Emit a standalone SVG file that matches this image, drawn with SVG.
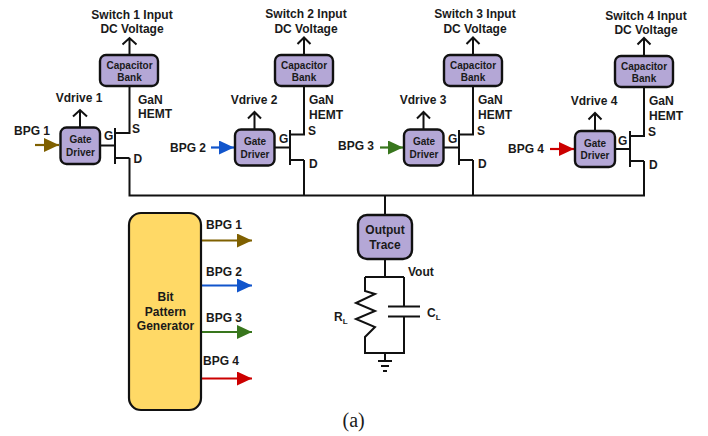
<svg xmlns="http://www.w3.org/2000/svg" width="708" height="436" viewBox="0 0 708 436">
<defs>
<marker id="ob" markerUnits="userSpaceOnUse" markerWidth="16" markerHeight="14" refX="15" refY="7" orient="auto"><path d="M0 0L15 7L0 14Z" fill="#7f6000"/></marker>
<marker id="bb" markerUnits="userSpaceOnUse" markerWidth="16" markerHeight="14" refX="15" refY="7" orient="auto"><path d="M0 0L15 7L0 14Z" fill="#1155cc"/></marker>
<marker id="gb" markerUnits="userSpaceOnUse" markerWidth="16" markerHeight="14" refX="15" refY="7" orient="auto"><path d="M0 0L15 7L0 14Z" fill="#38761d"/></marker>
<marker id="rb" markerUnits="userSpaceOnUse" markerWidth="16" markerHeight="14" refX="15" refY="7" orient="auto"><path d="M0 0L15 7L0 14Z" fill="#cc0000"/></marker>
</defs>
<style>
text{font-family:"Liberation Sans",Arial,sans-serif;font-weight:700;font-size:12px;fill:#1a1a1a}
.m{text-anchor:middle}
.s{font-size:10px}
.box{fill:#b4a7d6;stroke:#111;stroke-width:2.4}
.w{fill:none;stroke:#111;stroke-width:2}
.up{fill:none;stroke:#111;stroke-width:2}
</style>
<rect width="708" height="436" fill="#fff"/>
<g id="connectors">
<path class="w" d="M129.500 158V195.500H644V161"/>
<path class="w" d="M304 160V195.500M473 160V196M385 196V215M385 259V277M365 277H404M365 277V291L375 294L356 303L375 311L356 319L375 327L365 337V353H404V317M404 277V306.500M388 306.500H420M388 316.500H420M385 353V361"/>
<path class="w" d="M378 361H392M381 366H389M383 371H387"/>
<path d="M202 240.500H252" stroke="#7f6000" stroke-width="2.2" marker-end="url(#ob)"/>
<path d="M202 285.500H252" stroke="#1155cc" stroke-width="2.2" marker-end="url(#bb)"/>
<path d="M202 332H252" stroke="#38761d" stroke-width="2.2" marker-end="url(#gb)"/>
<path d="M202 378.500H252" stroke="#cc0000" stroke-width="2.2" marker-end="url(#rb)"/>
<path d="M35 145H59" stroke="#7f6000" stroke-width="2.2" marker-end="url(#ob)"/>
<path d="M211 147.500H234" stroke="#1155cc" stroke-width="2.2" marker-end="url(#bb)"/>
<path d="M380 147.500H403" stroke="#38761d" stroke-width="2.2" marker-end="url(#gb)"/>
<path d="M550 149H574" stroke="#cc0000" stroke-width="2.2" marker-end="url(#rb)"/>
</g>
<g id="switch1">
<path class="up" d="M129.500 55V38M122.500 44.500L129.500 38L136.500 44.500M129.500 86V133H115M115 128V164M100 145.500H115M115 158H129.500M80 127V110M73 116.500L80 110L87 116.500"/>
<rect class="box" x="100" y="55" width="58" height="31" rx="6"/>
<rect class="box" x="60.500" y="127.500" width="39.500" height="36.500" rx="6"/>
<text class="m" x="132" y="18.500">Switch 1 Input</text><text class="m" x="132" y="33">DC Voltage</text>
<text class="m s" x="129.500" y="68.500">Capacitor</text><text class="m s" x="129.500" y="80.500">Bank</text>
<text class="m s" x="80.500" y="143">Gate</text><text class="m s" x="80.500" y="155.500">Driver</text>
<text class="m" x="79" y="102">Vdrive 1</text><text x="138" y="104">GaN</text><text x="138" y="118">HEMT</text>
<text x="132" y="133">S</text><text x="133.500" y="162.500">D</text><text x="104" y="140">G</text><text x="14" y="134.500">BPG 1</text>
</g>
<g id="switch2">
<path class="up" d="M304 55V37M297.500 44L304 37.500L310.500 44M304 86V134.500H290M290 130V165M274 147.500H290M290 160H304M254.500 129V112M248 118.500L254.500 112L261 118.500"/>
<rect class="box" x="275" y="55" width="58" height="31" rx="6"/>
<rect class="box" x="235" y="129.500" width="39.500" height="36" rx="6"/>
<text class="m" x="306" y="18">Switch 2 Input</text><text class="m" x="306" y="33">DC Voltage</text>
<text class="m s" x="304" y="68.500">Capacitor</text><text class="m s" x="304" y="80.500">Bank</text>
<text class="m s" x="255" y="145">Gate</text><text class="m s" x="255" y="157.500">Driver</text>
<text class="m" x="254" y="104">Vdrive 2</text><text x="309" y="104">GaN</text><text x="309" y="118.500">HEMT</text>
<text x="308" y="135">S</text><text x="309" y="168">D</text><text x="279" y="143">G</text><text x="170" y="152">BPG 2</text>
</g>
<g id="switch3">
<path class="up" d="M473 55V37M466.500 44L473 37.500L479.500 44M473 86V134.500H459M459 130V165M443 147.500H459M459 160H473M423.500 129V112M417 118.500L423.500 112L430 118.500"/>
<rect class="box" x="444" y="55" width="58" height="31" rx="6"/>
<rect class="box" x="404" y="129.500" width="39.500" height="36" rx="6"/>
<text class="m" x="475" y="18">Switch 3 Input</text><text class="m" x="475" y="33">DC Voltage</text>
<text class="m s" x="473" y="68.500">Capacitor</text><text class="m s" x="473" y="80.500">Bank</text>
<text class="m s" x="424" y="145">Gate</text><text class="m s" x="424" y="157.500">Driver</text>
<text class="m" x="423" y="104">Vdrive 3</text><text x="478" y="104">GaN</text><text x="478" y="118.500">HEMT</text>
<text x="477" y="135">S</text><text x="478" y="168">D</text><text x="448" y="143">G</text><text x="338" y="150">BPG 3</text>
</g>
<g id="switch4">
<path class="up" d="M644 56V38M637.500 44.500L644 38L650.500 44.500M644 87V136H630M630 131V167M615 149H630M630 161H644M595 131V113M588.500 119.500L595 113L601.500 119.500"/>
<rect class="box" x="615" y="56" width="58" height="31" rx="6"/>
<rect class="box" x="575" y="131" width="40" height="36" rx="6"/>
<text class="m" x="646" y="19.500">Switch 4 Input</text><text class="m" x="646" y="34">DC Voltage</text>
<text class="m s" x="644" y="69.500">Capacitor</text><text class="m s" x="644" y="81.500">Bank</text>
<text class="m s" x="595" y="147">Gate</text><text class="m s" x="595" y="159">Driver</text>
<text class="m" x="594" y="105">Vdrive 4</text><text x="649" y="105">GaN</text><text x="649" y="120">HEMT</text>
<text x="648" y="136">S</text><text x="649" y="169">D</text><text x="618" y="145">G</text><text x="508" y="153">BPG 4</text>
</g>
<g id="output-trace">
<rect class="box" x="358" y="215" width="54" height="44" rx="9"/>
<text class="m" x="385" y="234">Output</text><text class="m" x="385" y="249">Trace</text>
</g>
<g id="bit-pattern-generator">
<rect x="129" y="213" width="72" height="197" rx="12" fill="#ffd966" stroke="#111" stroke-width="2.2"/>
<text class="m" x="165.500" y="301">Bit</text><text class="m" x="165.500" y="316">Pattern</text><text class="m" x="165.500" y="330">Generator</text>
</g>
<g id="labels">
<text x="206" y="229">BPG 1</text><text x="206" y="276">BPG 2</text><text x="206" y="322">BPG 3</text><text x="203" y="365">BPG 4</text>
<text x="408" y="276">Vout</text>
<text x="334" y="321" style="font-weight:700">R<tspan font-size="8" dy="3">L</tspan></text>
<text x="427" y="317">C<tspan font-size="8" dy="3">L</tspan></text>
<text x="342.500" y="427" style="font-family:'Liberation Serif',serif;font-weight:400;font-size:20px">(a)</text>
</g>
</svg>
